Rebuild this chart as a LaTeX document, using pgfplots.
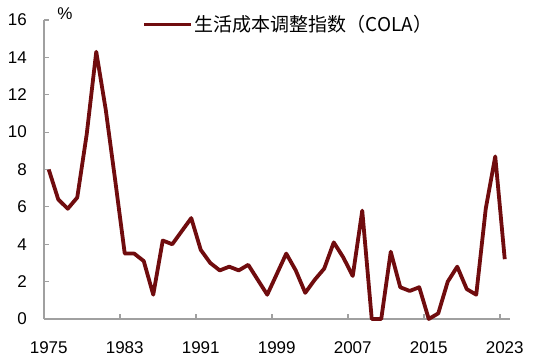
\documentclass[border=0pt]{standalone}
\usepackage{fontspec}
\setmainfont{Liberation Sans}
\newfontfamily\cjk{Noto Sans CJK SC}
\usepackage{pgfplots}
\pgfplotsset{compat=1.18}
\definecolor{cola}{RGB}{112,12,14}
\definecolor{axgray}{RGB}{160,160,160}
\begin{document}
\begin{tikzpicture}
\begin{axis}[
  at={(0,0)}, anchor=south west,
  scale only axis, width=465.5pt, height=299pt,
  xmin=1974.5, xmax=2023.5, ymin=0, ymax=16,
  axis x line=bottom, axis y line=left,
  axis line style={-, draw=axgray, line width=1.2pt},
  tick style={draw=axgray, line width=1.2pt},
  major tick length=5pt, tick align=inside,
  xtick={1974.5,1982.5,1990.5,1998.5,2006.5,2014.5,2022.5},
  xticklabels={1975,1983,1991,1999,2007,2015,2023},
  ytick={0,2,...,16},
  /pgf/number format/assume math mode=true,
  tick label style={font=\fontsize{17}{20}\selectfont},
  xticklabel style={anchor=north, inner sep=0pt, xshift=4.75pt, yshift=-22pt},
  yticklabel style={anchor=east, inner sep=0pt, xshift=-17pt},
  clip=false,
  legend style={draw=none, fill=none, at={(0.2105,0.985)}, anchor=west,
    font=\cjk\fontsize{19}{21}\selectfont, inner sep=0pt,
    /tikz/every even column/.style={column sep=0pt}},
  legend cell align=left,
  legend image code/.code={\draw[#1, line width=3.8pt] (0pt,0pt) -- (47pt,0pt);},
]
\addplot[cola, line width=3.8pt, line join=round] coordinates {
(1975,8.0)(1976,6.4)(1977,5.9)(1978,6.5)(1979,9.9)(1980,14.3)(1981,11.2)(1982,7.4)
(1983,3.5)(1984,3.5)(1985,3.1)(1986,1.3)(1987,4.2)(1988,4.0)(1989,4.7)(1990,5.4)
(1991,3.7)(1992,3.0)(1993,2.6)(1994,2.8)(1995,2.6)(1996,2.9)(1997,2.1)(1998,1.3)
(1999,2.4)(2000,3.5)(2001,2.6)(2002,1.4)(2003,2.1)(2004,2.7)(2005,4.1)(2006,3.3)
(2007,2.3)(2008,5.8)(2009,0.0)(2010,0.0)(2011,3.6)(2012,1.7)(2013,1.5)(2014,1.7)
(2015,0.0)(2016,0.3)(2017,2.0)(2018,2.8)(2019,1.6)(2020,1.3)(2021,5.9)(2022,8.7)
(2023,3.2)};
\addlegendentry{生活成本调整指数（COLA）}
\node[font=\fontsize{17}{20}\selectfont, inner sep=0pt] at (axis description cs:0.045,1.02) {\%};
\end{axis}
\pgfresetboundingbox
\useasboundingbox (-44pt,-42pt) rectangle (506pt,319pt);
\end{tikzpicture}
\end{document}
